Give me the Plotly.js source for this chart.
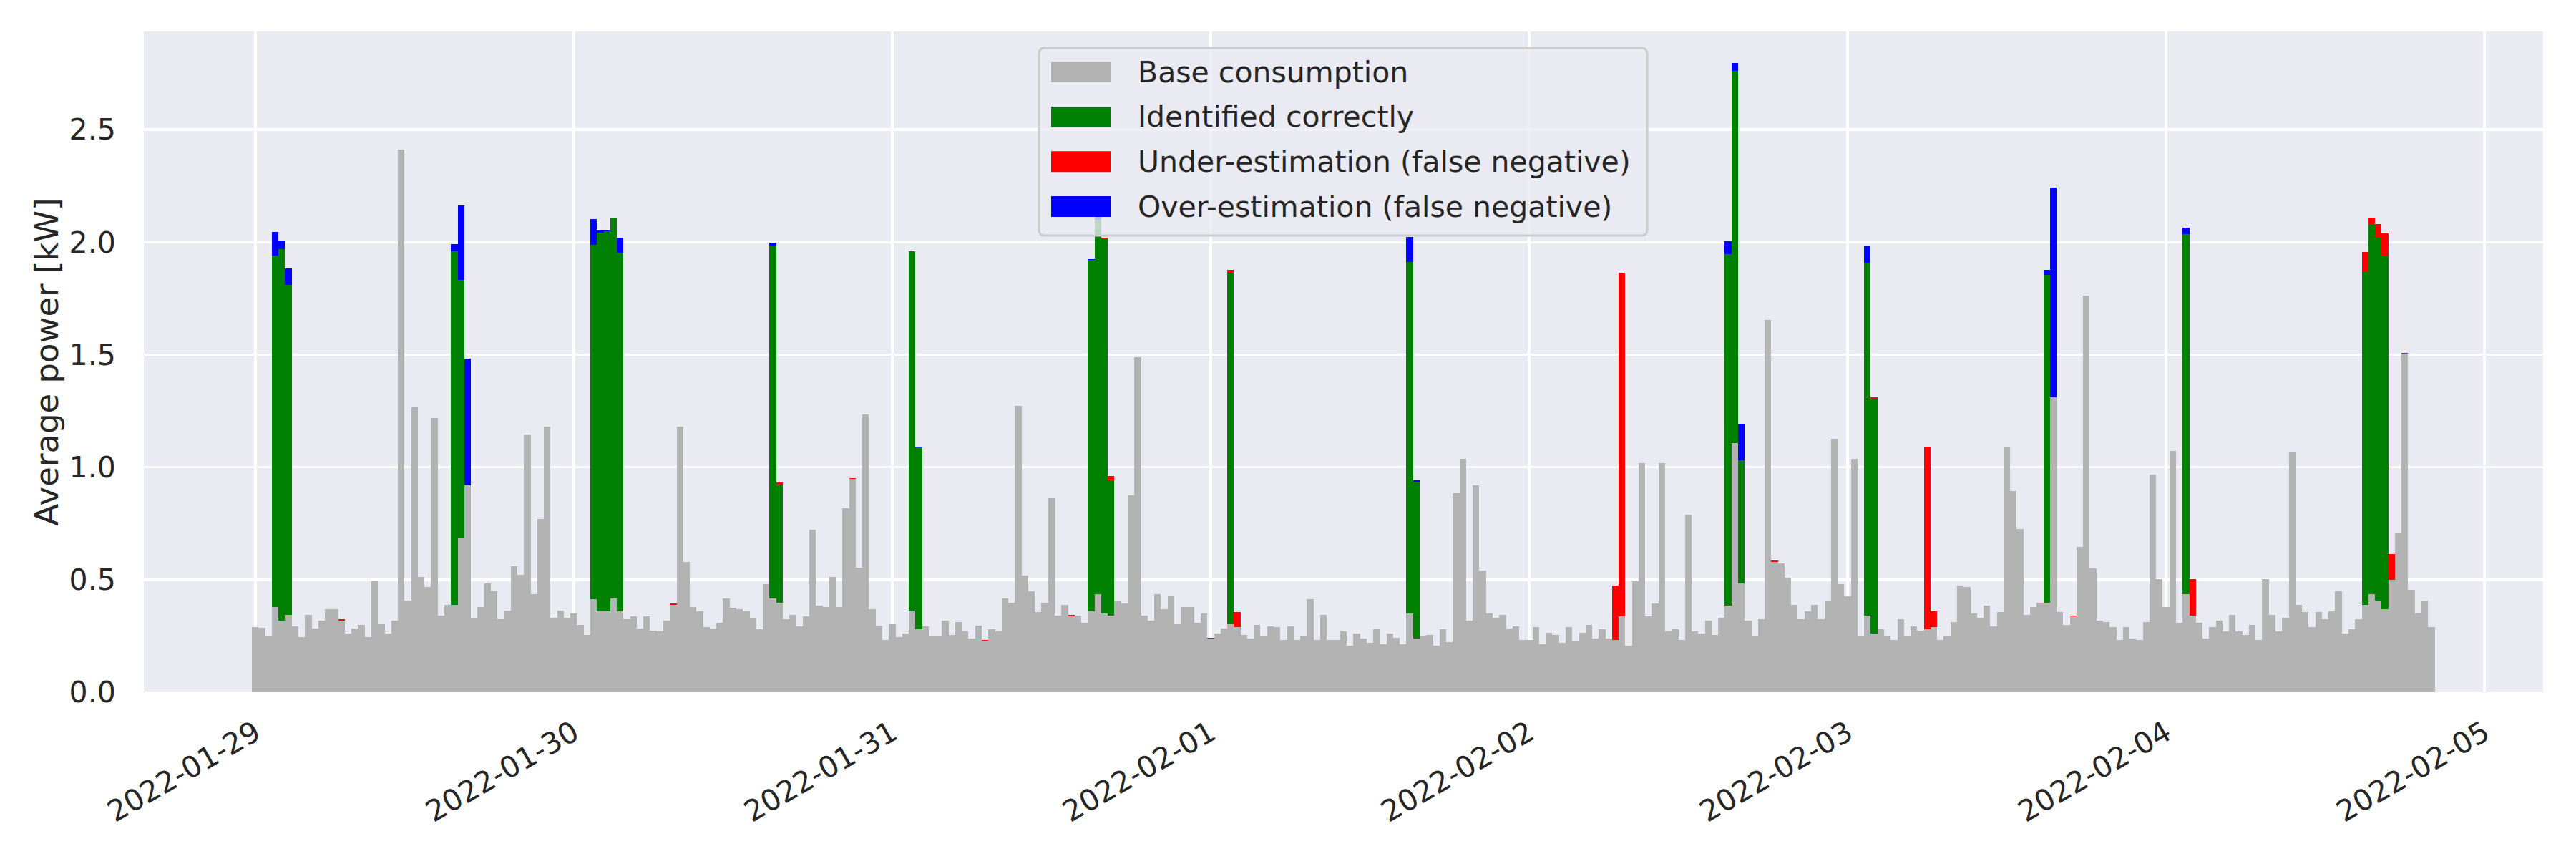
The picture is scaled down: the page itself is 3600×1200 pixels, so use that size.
<!DOCTYPE html>
<html>
<head>
<meta charset="utf-8">
<script src="https://cdn.plot.ly/plotly-3.0.1.min.js"></script>
<style>
  html, body { margin: 0; padding: 0; background: #ffffff; }
  #chart { width: 3600px; height: 1200px; }
</style>
</head>
<body>
<div id="chart"></div>
<script>
// half-hourly average power, 2022-01-29 00:00 onwards
var startTime = '2022-01-29T00:00:00Z';
var stepMinutes = 30;
var dayTicks = ['2022-01-29', '2022-01-30', '2022-01-31', '2022-02-01',
                '2022-02-02', '2022-02-03', '2022-02-04', '2022-02-05'];
var yTicks = [0, 0.5, 1.0, 1.5, 2.0, 2.5];

var seriesNames = ['Base consumption', 'Identified correctly',
                   'Under-estimation (false negative)', 'Over-estimation (false negative)'];
var seriesColors = ['#b3b3b3', '#008000', '#ff0000', '#0000ff'];

// gray part of each bar (kW)
var baseKw = [
  // 01-29
  0.29,0.286,0.25,0.38,0.317,0.345,0.294,0.246,0.342,0.284,0.317,0.368,0.368,0.319,0.26,0.284,
  0.30,0.246,0.494,0.303,0.261,0.317,2.41,0.408,1.265,0.511,0.469,1.218,0.34,0.387,0.387,0.685,
  0.918,0.328,0.378,0.485,0.45,0.326,0.364,0.561,0.523,1.145,0.435,0.771,1.179,0.332,0.364,0.332,
  // 01-30
  0.349,0.30,0.256,0.412,0.361,0.361,0.418,0.359,0.326,0.336,0.284,0.336,0.275,0.271,0.319,0.389,
  1.179,0.578,0.38,0.361,0.29,0.284,0.309,0.418,0.374,0.37,0.359,0.328,0.279,0.479,0.418,0.397,
  0.326,0.342,0.294,0.336,0.723,0.384,0.38,0.511,0.378,0.819,0.948,0.552,1.233,0.37,0.296,0.233,
  // 01-31
  0.303,0.246,0.26,0.364,0.279,0.294,0.252,0.25,0.317,0.256,0.313,0.269,0.24,0.296,0.227,0.279,
  0.269,0.418,0.399,1.271,0.517,0.45,0.355,0.399,0.861,0.34,0.389,0.338,0.34,0.309,0.359,0.435,
  0.351,0.34,0.403,0.393,0.876,1.489,0.34,0.317,0.435,0.368,0.431,0.303,0.378,0.378,0.309,0.349,
  // 02-01
  0.24,0.26,0.284,0.302,0.288,0.256,0.24,0.30,0.25,0.294,0.288,0.233,0.294,0.231,0.25,0.412,
  0.233,0.345,0.231,0.231,0.269,0.208,0.261,0.237,0.221,0.279,0.212,0.26,0.242,0.214,0.351,0.24,
  0.25,0.256,0.208,0.281,0.223,0.885,1.038,0.317,0.918,0.54,0.349,0.33,0.342,0.284,0.294,0.231,
  // 02-02
  0.233,0.288,0.212,0.265,0.256,0.218,0.288,0.227,0.265,0.30,0.24,0.279,0.237,0.231,0.336,0.208,
  0.492,1.017,0.336,0.393,1.017,0.269,0.279,0.231,0.79,0.269,0.26,0.317,0.256,0.332,0.384,1.107,
  0.483,0.317,0.25,0.326,1.653,0.58,0.574,0.508,0.387,0.326,0.361,0.387,0.326,0.403,1.126,0.479,
  // 02-03
  0.426,1.036,0.252,0.34,0.261,0.279,0.25,0.233,0.323,0.252,0.292,0.275,0.281,0.29,0.233,0.25,
  0.313,0.475,0.469,0.351,0.332,0.384,0.294,0.355,1.09,0.895,0.725,0.345,0.378,0.397,0.397,1.309,
  0.355,0.30,0.336,0.647,1.761,0.55,0.317,0.313,0.29,0.233,0.29,0.237,0.231,0.313,0.966,0.502,
  // 02-04
  0.38,1.071,0.309,0.435,0.34,0.309,0.24,0.29,0.317,0.271,0.342,0.269,0.256,0.298,0.233,0.502,
  0.345,0.269,0.332,1.065,0.387,0.355,0.288,0.355,0.326,0.359,0.447,0.261,0.281,0.326,0.387,0.437,
  0.408,0.37,0.498,0.708,1.504,0.454,0.349,0.408,0.288
];

// stacked parts, given as (slot index, kW)
var correctAt = [3,4,5,30,31,51,52,53,54,55,78,79,99,100,126,127,128,129,147,174,175,
                 222,223,224,243,244,270,291,318,319,320,321];
var correctKw = [1.56,1.653,1.465,1.573,1.147,1.577,1.681,1.687,1.691,1.595,1.563,0.527,1.594,0.809,
                 1.561,1.665,1.662,0.603,1.562,1.561,0.695,1.563,1.654,0.549,1.568,1.044,1.458,1.601,
                 1.483,1.639,1.615,1.571];

var underAt = [13,63,79,90,110,123,128,129,144,147,148,205,206,229,244,252,253,274,292,
               318,319,320,321,322,324];
var underKw = [0.004,0.004,0.007,0.004,0.004,0.004,0.006,0.019,0.003,0.014,0.067,0.242,1.529,0.004,
               0.004,0.809,0.071,0.005,0.162,0.086,0.033,0.057,0.097,0.115,0.004];

var overAt = [3,4,5,30,31,32,51,52,53,55,78,100,126,127,174,175,222,223,224,243,270,271,291];
var overKw = [0.106,0.038,0.074,0.03,0.33,0.563,0.114,0.01,0.005,0.065,0.017,0.004,0.004,0.02,
              0.111,0.008,0.057,0.035,0.161,0.073,0.021,0.933,0.029];

function slotTimes(n) {
  var t0 = new Date(startTime).getTime();
  var out = [];
  for (var i = 0; i < n; i++) {
    out.push(new Date(t0 + i * stepMinutes * 60000).toISOString().slice(0, 19).replace('T', ' '));
  }
  return out;
}

function spread(at, vals) {
  var a = baseKw.map(function () { return 0; });
  at.forEach(function (k, j) { a[k] = vals[j]; });
  return a;
}

var times = slotTimes(baseKw.length);
var stackParts = [baseKw, spread(correctAt, correctKw), spread(underAt, underKw), spread(overAt, overKw)];

var traces = stackParts.map(function (ys, s) {
  return {
    type: 'bar',
    x: times,
    y: ys,
    width: stepMinutes * 60000,
    name: seriesNames[s],
    marker: { color: seriesColors[s], line: { width: 0 } },
    showlegend: false
  };
});

// page geometry (px)
var W = 3600, H = 1200;
var M = { l: 201, r: 46, t: 44, b: 233 };
var plotW = W - M.l - M.r, plotH = H - M.t - M.b;
function px2x(px) { return (px - M.l) / plotW; }
function py2y(py) { return (H - M.b - py) / plotH; }

var textColor = '#262626';
var font = 'DejaVu Sans, Verdana, sans-serif';

// legend drawn by hand so the colour patches have matplotlib's size
var legBox = { x0: 1452, y0: 67, x1: 2302, y1: 329, r: 8 };
var legRows = [100.5, 163.4, 225.7, 288.6];
var patchX0 = 1469, patchX1 = 1552, patchH = 29;
var legTextX = 1588;

function roundRect(b) {
  var x0 = px2x(b.x0), x1 = px2x(b.x1), y0 = py2y(b.y1), y1 = py2y(b.y0);
  var rx = b.r / plotW, ry = b.r / plotH;
  return 'M' + (x0 + rx) + ',' + y0 +
    ' L' + (x1 - rx) + ',' + y0 + ' Q' + x1 + ',' + y0 + ' ' + x1 + ',' + (y0 + ry) +
    ' L' + x1 + ',' + (y1 - ry) + ' Q' + x1 + ',' + y1 + ' ' + (x1 - rx) + ',' + y1 +
    ' L' + (x0 + rx) + ',' + y1 + ' Q' + x0 + ',' + y1 + ' ' + x0 + ',' + (y1 - ry) +
    ' L' + x0 + ',' + (y0 + ry) + ' Q' + x0 + ',' + y0 + ' ' + (x0 + rx) + ',' + y0 + ' Z';
}

var shapes = [{
  type: 'path', xref: 'paper', yref: 'paper', layer: 'above',
  path: roundRect(legBox),
  fillcolor: 'rgba(234,234,242,0.8)',
  line: { color: '#cccccc', width: 3 }
}];
var annotations = [];
legRows.forEach(function (ry, s) {
  shapes.push({
    type: 'rect', xref: 'paper', yref: 'paper', layer: 'above',
    x0: px2x(patchX0), x1: px2x(patchX1),
    y0: py2y(ry + patchH / 2), y1: py2y(ry - patchH / 2),
    fillcolor: seriesColors[s], line: { width: 0 }
  });
  annotations.push({
    xref: 'paper', yref: 'paper', x: px2x(legTextX), y: py2y(ry),
    xanchor: 'left', yanchor: 'middle', showarrow: false,
    text: seriesNames[s],
    font: { family: font, size: 41, color: textColor }
  });
});

var layout = {
  width: W,
  height: H,
  margin: { l: M.l, r: M.r, t: M.t, b: M.b, pad: 0 },
  paper_bgcolor: '#ffffff',
  plot_bgcolor: '#eaeaf2',
  barmode: 'stack',
  bargap: 0,
  showlegend: false,
  font: { family: font, color: textColor },
  xaxis: {
    type: 'date',
    range: ['2022-01-28 15:36', '2022-02-05 04:25'],
    tickvals: dayTicks,
    tickformat: '%Y-%m-%d',
    tickangle: -30,
    ticks: 'outside', ticklen: 16, tickcolor: 'rgba(0,0,0,0)',
    tickfont: { family: font, size: 41, color: textColor },
    showgrid: true, gridcolor: '#ffffff', gridwidth: 3.5,
    zeroline: false, showline: false, automargin: false
  },
  yaxis: {
    range: [0, 2.936],
    tickvals: yTicks,
    tickformat: '.1f',
    ticks: 'outside', ticklen: 30, tickcolor: 'rgba(0,0,0,0)',
    tickfont: { family: font, size: 41, color: textColor },
    showgrid: true, gridcolor: '#ffffff', gridwidth: 3.5,
    zeroline: false, showline: false, automargin: false,
    title: { text: 'Average power [kW]', font: { family: font, size: 45, color: textColor }, standoff: 0 }
  },
  shapes: shapes,
  annotations: annotations
};

Plotly.newPlot('chart', traces, layout, { staticPlot: true, displayModeBar: false });
</script>
</body>
</html>
